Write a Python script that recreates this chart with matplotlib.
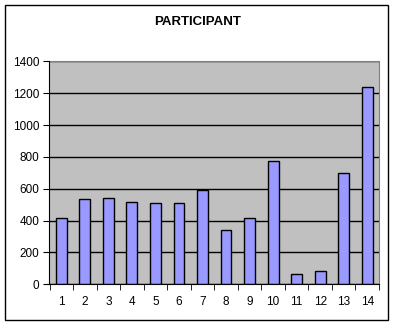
import matplotlib
matplotlib.use("Agg")
import matplotlib.pyplot as plt
from matplotlib.patches import Rectangle
import numpy as np

plt.rcParams['font.family'] = ['Liberation Sans', 'DejaVu Sans']

categories = [str(i) for i in range(1, 15)]
values = [414, 534, 540, 517, 511, 511, 590, 341, 414, 772, 63, 82, 697, 1237]
yticks = [0, 200, 400, 600, 800, 1000, 1200, 1400]
title = "PARTICIPANT"

W, H = 394, 326
fig = plt.figure(figsize=(W / 100, H / 100), dpi=100)
fig.patch.set_facecolor('white')
fig.patches.append(Rectangle((5 / W, 1 - 320 / H), 383 / W, 315 / H, transform=fig.transFigure,
                             fill=False, edgecolor='black', linewidth=1))

ax = fig.add_axes([49.5 / W, 1 - 284.3 / H, 329.5 / W, 223 / H])
ax.set_facecolor('#C0C0C0')
x = np.arange(len(categories))
ax.bar(x, values, width=0.46, color='#9999FF', edgecolor='black', linewidth=1, zorder=3)
ax.set_xlim(-0.5, len(categories) - 0.5)
ax.set_ylim(0, 1400)
ax.set_yticks(yticks)
ax.set_yticklabels([str(v) for v in yticks], fontsize=8.5)
ax.yaxis.grid(True, color='black', linewidth=1, zorder=1)
ax.set_axisbelow(True)
ax.set_xticks(x)
ax.set_xticklabels(categories, fontsize=8.5)
ax.set_xticks(np.arange(-0.5, len(categories)), minor=True)
ax.tick_params(axis='x', which='major', length=0, pad=8.5)
ax.tick_params(axis='x', which='minor', length=4, direction='out', color='black')
ax.tick_params(axis='y', length=4, direction='out', color='black', pad=3.5)
for s in ['top', 'right']:
    ax.spines[s].set_color('#808080')
for s in ['left', 'bottom']:
    ax.spines[s].set_color('black')
ax.spines['left'].set_zorder(4)
ax.spines['bottom'].set_zorder(4)

fig.text(198 / W, 1 - 22 / H, title, ha='center', va='center',
         fontsize=9.5, fontweight='bold')

fig.savefig('out.png', dpi=100)
